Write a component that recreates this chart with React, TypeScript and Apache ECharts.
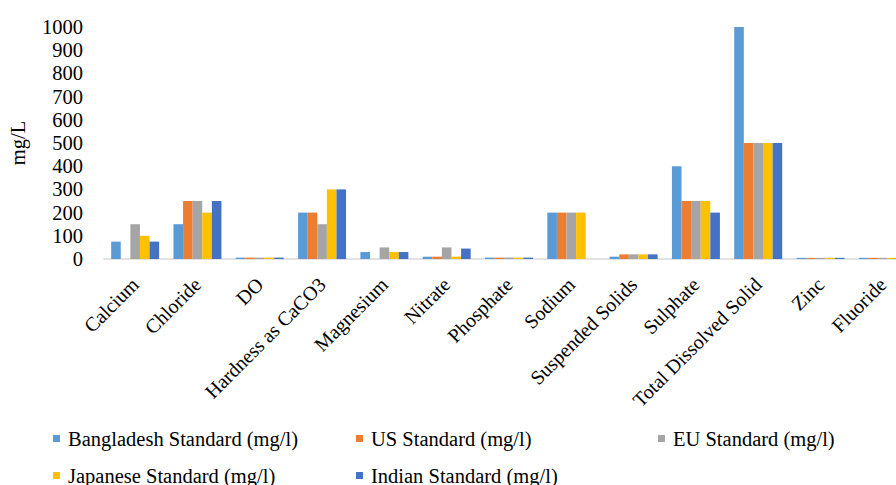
import React, { useEffect, useRef } from "react";
import * as echarts from "echarts";

const categories = [
  "Calcium",
  "Chloride",
  "DO",
  "Hardness as CaCO3",
  "Magnesium",
  "Nitrate",
  "Phosphate",
  "Sodium",
  "Suspended Solids",
  "Sulphate",
  "Total Dissolved Solid",
  "Zinc",
  "Fluoride",
];

const bangladesh = [75, 150, 6, 200, 30, 10, 6, 200, 10, 400, 1000, 5, 5];
const us = [0, 250, 6, 200, 0, 10, 6, 200, 20, 250, 500, 5, 5];
const eu = [150, 250, 6, 150, 50, 50, 6, 200, 20, 250, 500, 5, 5];
const japanese = [100, 200, 6, 300, 30, 10, 6, 200, 20, 250, 500, 5, 5];
const indian = [75, 250, 6, 300, 30, 45, 6, 0, 20, 200, 500, 5, 5];

const seriesNames = [
  "Bangladesh Standard (mg/l)",
  "US Standard (mg/l)",
  "EU Standard (mg/l)",
  "Japanese Standard (mg/l)",
  "Indian Standard (mg/l)",
];
const seriesData = [bangladesh, us, eu, japanese, indian];
const colors = ["#5b9bd5", "#ed7d31", "#a5a5a5", "#ffc000", "#4472c4"];

const FONT = "Liberation Serif, Times New Roman, serif";
const FONT_SIZE = 20.5;

export default function App() {
  const ref = useRef<HTMLDivElement>(null);

  useEffect(() => {
    if (!ref.current) return;
    const chart = echarts.init(ref.current, undefined, { renderer: "svg" });

    // legend entries laid out in two rows of fixed-width columns
    const legendPos = [
      { left: 53, top: 428 },
      { left: 356, top: 428 },
      { left: 658, top: 428 },
      { left: 53, top: 465 },
      { left: 356, top: 465 },
    ];

    chart.setOption({
      animation: false,
      color: colors,
      textStyle: { fontFamily: FONT },
      grid: { left: 104, top: 27, height: 232, width: 810, outerBoundsMode: "none" },
      legend: seriesNames.map((name, i) => ({
        data: [name],
        left: legendPos[i].left,
        top: legendPos[i].top,
        icon: "rect",
        itemWidth: 7,
        itemHeight: 7,
        padding: 0,
        textStyle: {
          fontFamily: FONT,
          fontSize: FONT_SIZE,
          lineHeight: 20,
          color: "#000",
          padding: [0, 0, 0, 3],
        },
      })),
      xAxis: {
        type: "category",
        data: categories,
        axisLine: { lineStyle: { color: "#d9d9d9", width: 1.5 } },
        axisTick: { show: false },
        axisLabel: {
          interval: 0,
          rotate: 45,
          margin: 22,
          fontFamily: FONT,
          fontSize: 20,
          color: "#000",
        },
      },
      yAxis: {
        type: "value",
        min: 0,
        max: 1000,
        interval: 100,
        name: "mg/L",
        nameLocation: "middle",
        nameGap: 76,
        nameRotate: 90,
        nameTextStyle: { fontFamily: FONT, fontSize: FONT_SIZE, color: "#000" },
        splitLine: { show: false },
        axisLine: { show: false },
        axisTick: { show: false },
        axisLabel: {
          margin: 21,
          fontFamily: FONT,
          fontSize: FONT_SIZE,
          color: "#000",
          formatter: (v: number) => String(v),
        },
      },
      series: seriesNames.map((name, i) => ({
        name,
        type: "bar",
        data: seriesData[i],
        barGap: "0%",
        barCategoryGap: "23%",
      })),
    });

    return () => chart.dispose();
  }, []);

  return (
    <div
      ref={ref}
      style={{ position: "fixed", left: 0, top: 0, width: 896, height: 485, background: "#fff" }}
    />
  );
}
